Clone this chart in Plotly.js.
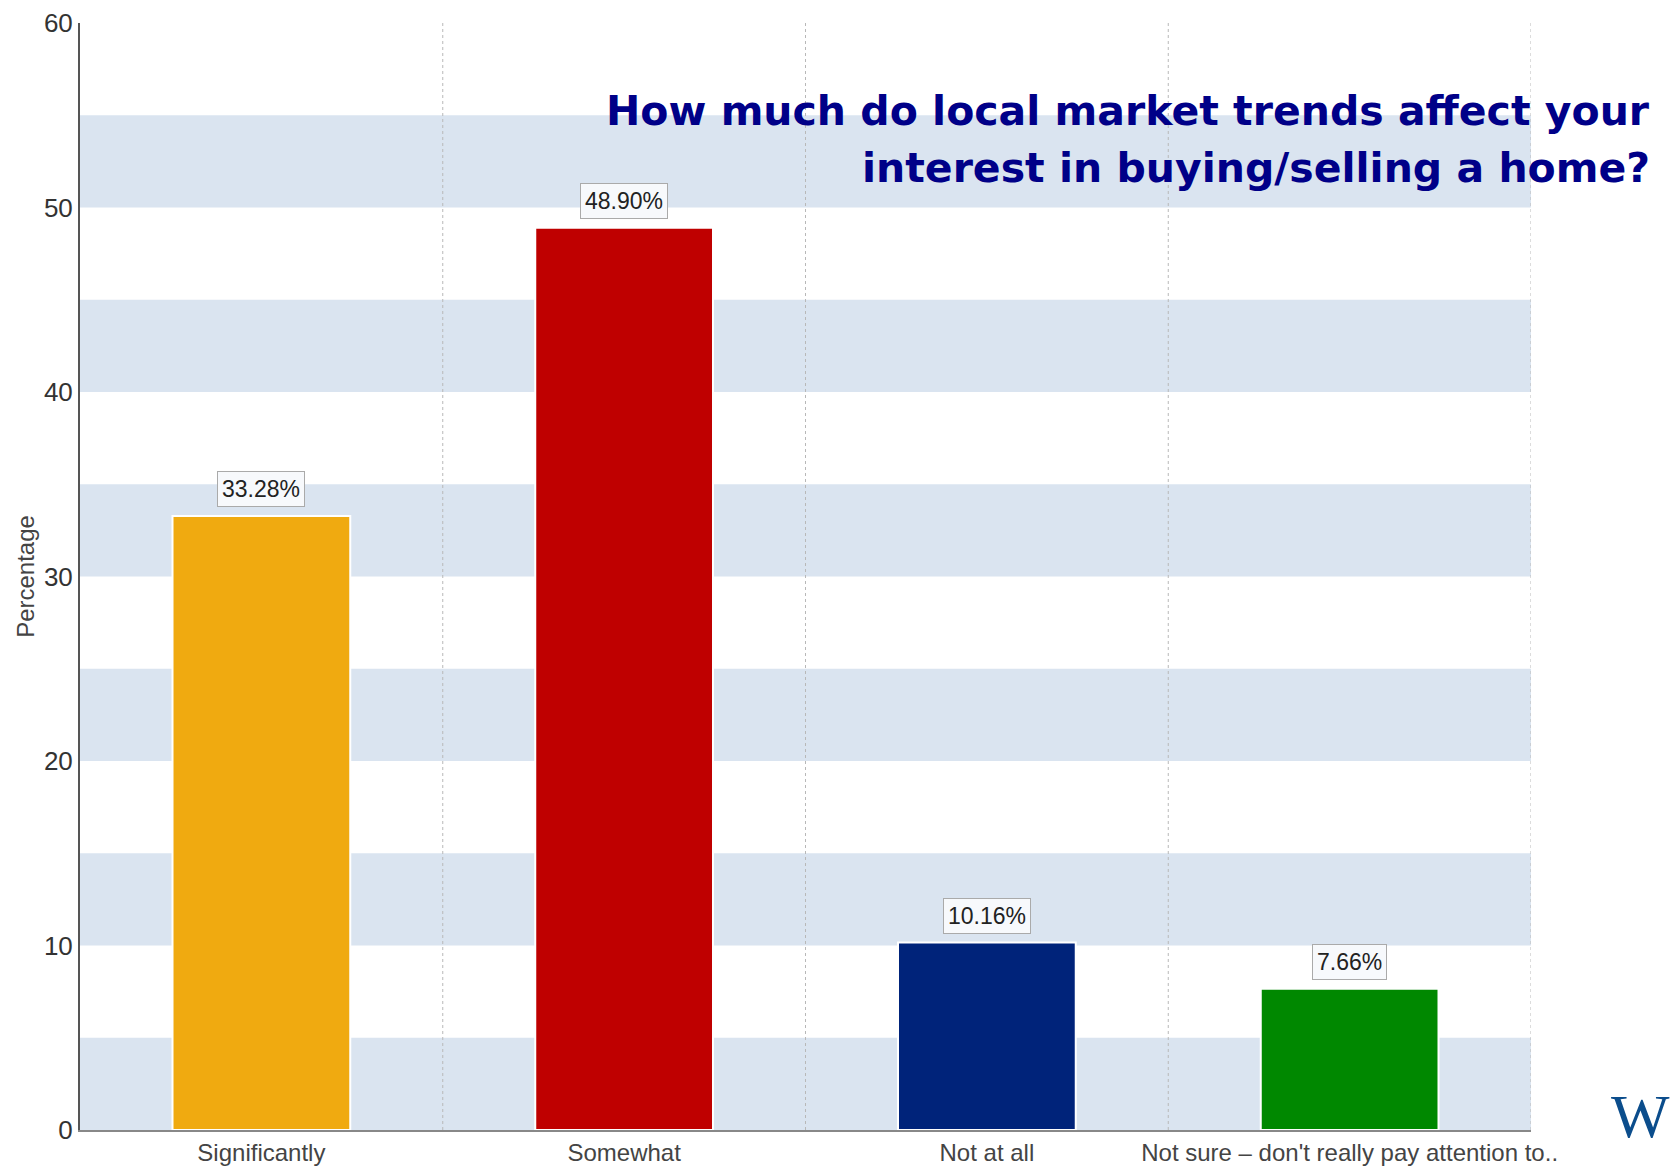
<!DOCTYPE html>
<html>
<head>
<meta charset="utf-8">
<script src="https://cdn.plot.ly/plotly-3.0.1.min.js"></script>
<style>html,body{margin:0;padding:0;background:#fff;}#chart{width:1671px;height:1166px;}</style>
</head>
<body>
<div id="chart"></div>
<script>
const categories = ["Significantly", "Somewhat", "Not at all", "Not sure \u2013 don't really pay attention to.."];
const values = [33.28, 48.90, 10.16, 7.66];
const labels = ["33.28%", "48.90%", "10.16%", "7.66%"];
const colors = ["#f0aa10", "#bf0000", "#00237a", "#008800"];
const bandStarts = [0, 10, 20, 30, 40, 50];
const dividers = [0.5, 1.5, 2.5, 3.5];
const titleLines = ["How much do local market trends affect your", "interest in buying/selling a home?"];

const shapes = [];
bandStarts.forEach(b => shapes.push({type:'rect', xref:'paper', yref:'y', x0:0, x1:1, y0:b, y1:b+5,
  fillcolor:'#dae4f0', line:{width:0}, layer:'below'}));
dividers.forEach(d => shapes.push({type:'line', xref:'x', yref:'paper', x0:d, x1:d, y0:0, y1:1,
  line:{color:'#b8b8b8', width:1, dash:'dot'}, layer:'below'}));

const annotations = values.map((v,i) => ({
  x: categories[i], y: v, xref:'x', yref:'y', text: labels[i], showarrow:false,
  yanchor:'bottom', yshift: 9,
  font:{family:'Liberation Sans, Arial, sans-serif', size:23, color:'#222'},
  bgcolor:'#f7f9fc', bordercolor:'#aaaaaa', borderwidth:1, borderpad:4
}));
titleLines.forEach((line, i) => annotations.push({
  xref:'paper', yref:'paper', x:1.0835, y:1, xanchor:'right', yanchor:'middle', yshift:-88 - i*57,
  showarrow:false, text: line,
  font:{family:'DejaVu Sans, sans-serif', size:41, color:'#000088', weight:'bold'}
}));
annotations.push({
  xref:'paper', yref:'paper', x:1.054, y:0, xanchor:'left', yanchor:'bottom', yshift:-22,
  showarrow:false, text:'W',
  font:{family:'Liberation Serif, serif', size:62, color:'#0b4d8c'}
});

const trace = {
  type:'bar', x: categories, y: values, width:0.49,
  marker:{color: colors, line:{color:'#ffffff', width:2}},
  hoverinfo:'none'
};

const layout = {
  width:1671, height:1166,
  margin:{l:80, r:140, t:23, b:36},
  paper_bgcolor:'#ffffff', plot_bgcolor:'#ffffff',
  showlegend:false,
  xaxis:{type:'category', range:[-0.5,3.5], showgrid:false, zeroline:false,
    showline:true, linecolor:'#888', linewidth:2, ticks:'',
    tickfont:{family:'Liberation Sans, Arial, sans-serif', size:24, color:'#444'}},
  yaxis:{range:[0,60], dtick:10, showgrid:false, zeroline:false,
    showline:true, linecolor:'#555', linewidth:2, ticks:'',
    tickfont:{family:'Liberation Sans, Arial, sans-serif', size:26, color:'#333'},
    title:{text:'Percentage', standoff:2, font:{family:'Liberation Sans, Arial, sans-serif', size:24, color:'#444'}}},
  shapes: shapes,
  annotations: annotations
};

Plotly.newPlot('chart', [trace], layout, {displayModeBar:false, staticPlot:true});
</script>
</body>
</html>
